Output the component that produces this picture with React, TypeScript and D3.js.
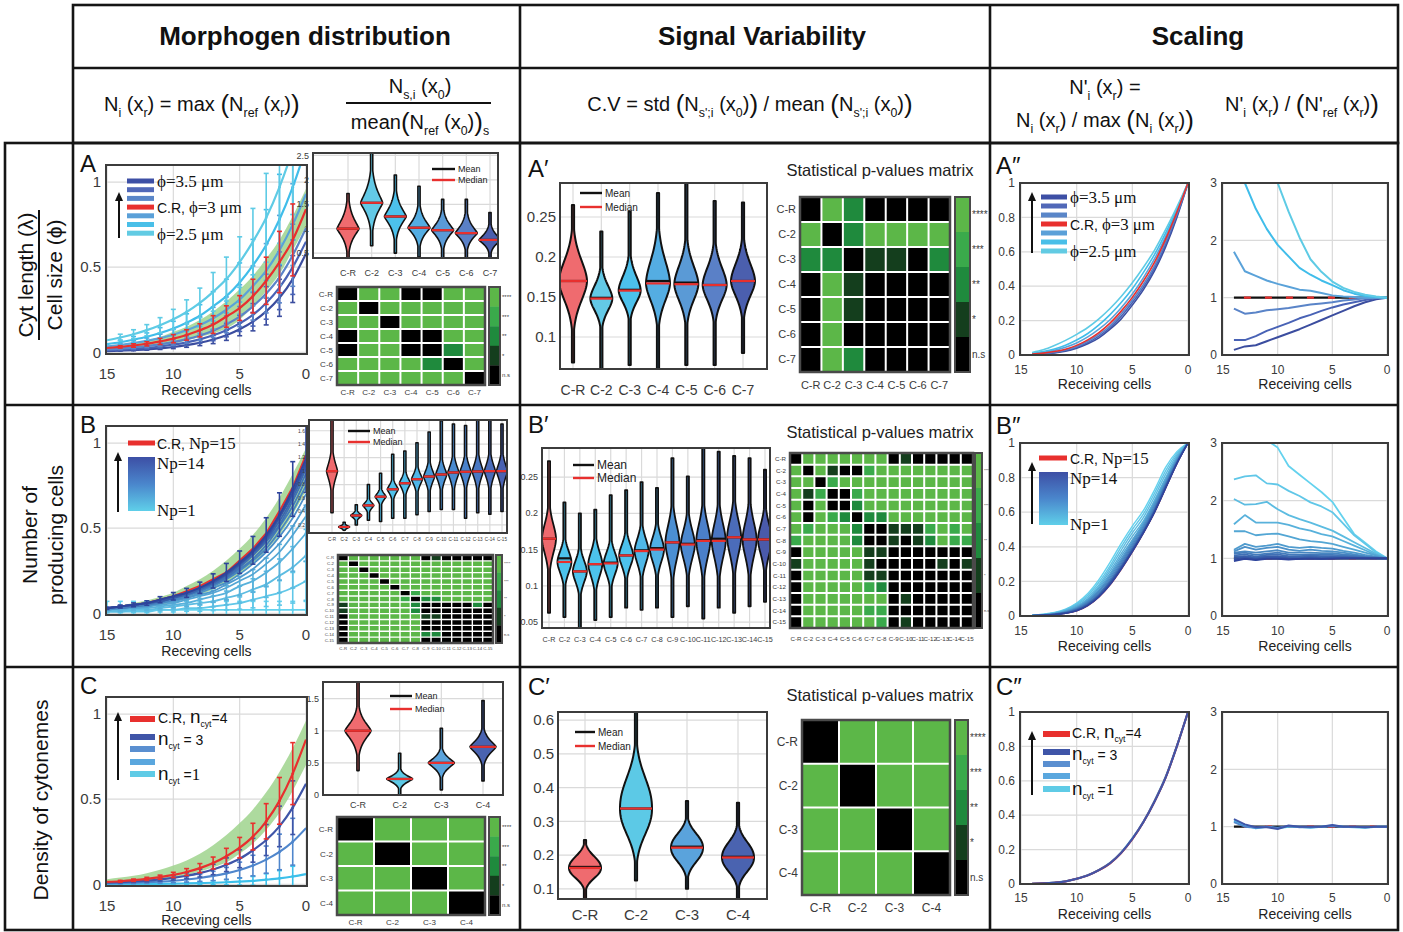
import React from "react";
import * as d3 from "d3";

const SANS = "'Liberation Sans', Arial, Helvetica, sans-serif";
const NARROW = "'Liberation Sans Narrow', 'Liberation Sans', Arial, sans-serif";
const SERIF = "'Liberation Serif', 'Times New Roman', serif";

// ---------------- data ----------------
const cells16 = [0, 1, 2, 3, 4, 5, 6, 7, 8, 9, 10, 11, 12, 13, 14, 15];
const cells15 = [0, 1, 2, 3, 4, 5, 6, 7, 8, 9, 10, 11, 12, 13, 14];
const xTicksCells = [15, 10, 5, 0];

const catsA = ["C-R", "C-2", "C-3", "C-4", "C-5", "C-6", "C-7"];
const catsB = ["C-R", "C-2", "C-3", "C-4", "C-5", "C-6", "C-7", "C-8", "C-9", "C-10", "C-11", "C-12", "C-13", "C-14", "C-15"];
const catsC = ["C-R", "C-2", "C-3", "C-4"];
const starLabels = ["****", "***", "**", "*", "n.s"];

// A: morphogen profile for cell size phi (x = 0..15 cells from source)
const aPhi350 = [0.58, 0.43, 0.32, 0.24, 0.18, 0.135, 0.1, 0.075, 0.056, 0.042, 0.031, 0.023, 0.017, 0.013, 0.01, 0.007];
const aPhi333 = [0.65, 0.5, 0.38, 0.29, 0.22, 0.17, 0.13, 0.1, 0.076, 0.058, 0.045, 0.034, 0.026, 0.02, 0.015, 0.012];
const aPhi317 = [0.73, 0.57, 0.44, 0.345, 0.27, 0.21, 0.164, 0.127, 0.099, 0.077, 0.06, 0.047, 0.037, 0.029, 0.022, 0.017];
const aRef = [0.84, 0.66, 0.53, 0.42, 0.33, 0.26, 0.21, 0.163, 0.129, 0.102, 0.08, 0.064, 0.05, 0.04, 0.032, 0.025];
const aPhi283 = [0.93, 0.75, 0.6, 0.48, 0.39, 0.31, 0.25, 0.2, 0.16, 0.13, 0.103, 0.083, 0.067, 0.054, 0.043, 0.035];
const aPhi267 = [1.2, 0.97, 0.78, 0.63, 0.51, 0.41, 0.33, 0.27, 0.215, 0.174, 0.14, 0.113, 0.091, 0.074, 0.059, 0.048];
const aPhi250 = [1.45, 1.19, 0.97, 0.79, 0.65, 0.53, 0.43, 0.355, 0.29, 0.237, 0.194, 0.159, 0.13, 0.106, 0.087, 0.071];
const aErrRel = [0, 0.32, 0.34, 0.33, 0.3, 0.28, 0.3, 0.32, 0.3, 0.3, 0.3, 0.28, 0.25, 0.25, 0.22, 0];
const aBandHi = [0.96, 0.8, 0.66, 0.55, 0.45, 0.37, 0.3, 0.24, 0.19, 0.15, 0.12, 0.09, 0.07, 0.05, 0.04, 0.03];
const aBandLo = [0.74, 0.6, 0.46, 0.36, 0.27, 0.19, 0.14, 0.11, 0.09, 0.07, 0.05, 0.04, 0.03, 0.02, 0.015, 0.01];

// A violins (normalised signal)
const aVMed = [1.0, 1.53, 1.25, 1.02, 0.97, 0.91, 0.77];
const aVLo = [0.4, 0.65, 0.5, 0.42, 0.3, 0.35, 0.35];
const aVHi = [1.72, 2.6, 2.1, 1.87, 1.6, 1.6, 1.33];
const aVUp = [0.3, 0.35, 0.28, 0.24, 0.22, 0.22, 0.17];
const aVDn = [0.25, 0.3, 0.25, 0.2, 0.2, 0.18, 0.14];

// A' violins (C.V)
const a2Med = [0.17, 0.148, 0.158, 0.167, 0.166, 0.165, 0.17];
const a2Mean = [0.17, 0.149, 0.159, 0.17, 0.168, 0.165, 0.17];
const a2Lo = [0.068, 0.06, 0.065, 0.06, 0.065, 0.065, 0.08];
const a2Hi = [0.265, 0.232, 0.257, 0.28, 0.3, 0.27, 0.268];
const a2Up = [0.038, 0.024, 0.027, 0.042, 0.034, 0.032, 0.032];
const a2Dn = [0.036, 0.022, 0.022, 0.032, 0.03, 0.028, 0.028];

// A'' normalised profiles (x = 0..14)
const aN350 = [1, 0.8, 0.63, 0.49, 0.38, 0.29, 0.21, 0.15, 0.1, 0.065, 0.04, 0.022, 0.012, 0.006, 0.003];
const aN333 = [1, 0.81, 0.645, 0.505, 0.395, 0.305, 0.225, 0.16, 0.11, 0.072, 0.045, 0.026, 0.014, 0.007, 0.004];
const aN317 = [1, 0.82, 0.66, 0.52, 0.41, 0.32, 0.24, 0.17, 0.12, 0.08, 0.05, 0.03, 0.017, 0.009, 0.005];
const aNRef = [1, 0.83, 0.675, 0.54, 0.43, 0.335, 0.255, 0.185, 0.13, 0.088, 0.056, 0.034, 0.02, 0.011, 0.006];
const aN283 = [1, 0.84, 0.69, 0.56, 0.45, 0.355, 0.275, 0.205, 0.15, 0.105, 0.07, 0.045, 0.027, 0.015, 0.008];
const aN267 = [1, 0.85, 0.71, 0.585, 0.48, 0.385, 0.305, 0.235, 0.175, 0.125, 0.087, 0.057, 0.035, 0.02, 0.01];
const aN250 = [1, 0.86, 0.73, 0.61, 0.51, 0.42, 0.34, 0.27, 0.21, 0.16, 0.12, 0.085, 0.055, 0.03, 0.015];
// A'' ratio to reference
const aR350 = [1, 0.97, 0.92, 0.85, 0.77, 0.69, 0.61, 0.53, 0.45, 0.38, 0.31, 0.24, 0.17, 0.15, 0.09];
const aR333 = [1, 0.99, 0.96, 0.92, 0.88, 0.83, 0.77, 0.7, 0.64, 0.56, 0.49, 0.42, 0.33, 0.26, 0.26];
const aR317 = [1, 1, 0.99, 0.97, 0.95, 0.92, 0.9, 0.88, 0.85, 0.82, 0.8, 0.78, 0.74, 0.72, 0.81];
const aR283 = [1, 1, 1, 1.01, 1.02, 1.04, 1.08, 1.12, 1.14, 1.19, 1.24, 1.3, 1.38, 1.46, 1.8];
const aR267 = [1, 1.01, 1.03, 1.07, 1.13, 1.22, 1.3, 1.4, 1.52, 1.72, 1.92, 2.2, 2.55, 3.0, 3.4];
const aR250 = [1, 1.02, 1.05, 1.1, 1.17, 1.28, 1.45, 1.67, 2.05, 2.5, 3.0, 3.6, 4.4, 5.2, 6.0];

// B: number of producing cells, Np = 1..14 (x = 0..15)
const bProfiles = [
  [0.02, 0.02, 0.02, 0.02, 0.02, 0.02, 0.02, 0.02, 0.02, 0.02, 0.02, 0.02, 0.02, 0.02, 0.02, 0.02],
  [0.19, 0.15, 0.12, 0.1, 0.08, 0.06, 0.05, 0.04, 0.03, 0.03, 0.02, 0.02, 0.01, 0.01, 0.01, 0.01],
  [0.34, 0.27, 0.22, 0.17, 0.14, 0.11, 0.09, 0.07, 0.06, 0.05, 0.04, 0.03, 0.02, 0.02, 0.01, 0.01],
  [0.47, 0.38, 0.3, 0.24, 0.19, 0.16, 0.12, 0.1, 0.08, 0.06, 0.05, 0.04, 0.03, 0.03, 0.02, 0.02],
  [0.57, 0.46, 0.36, 0.29, 0.23, 0.19, 0.15, 0.12, 0.1, 0.08, 0.06, 0.05, 0.04, 0.03, 0.03, 0.02],
  [0.64, 0.51, 0.41, 0.33, 0.26, 0.21, 0.17, 0.13, 0.11, 0.09, 0.07, 0.06, 0.04, 0.04, 0.03, 0.02],
  [0.7, 0.56, 0.45, 0.36, 0.29, 0.23, 0.18, 0.15, 0.12, 0.09, 0.08, 0.06, 0.05, 0.04, 0.03, 0.02],
  [0.75, 0.6, 0.48, 0.38, 0.31, 0.25, 0.2, 0.16, 0.13, 0.1, 0.08, 0.06, 0.05, 0.04, 0.03, 0.03],
  [0.79, 0.63, 0.51, 0.4, 0.32, 0.26, 0.21, 0.17, 0.13, 0.11, 0.09, 0.07, 0.05, 0.04, 0.03, 0.03],
  [0.82, 0.66, 0.52, 0.42, 0.34, 0.27, 0.21, 0.17, 0.14, 0.11, 0.09, 0.07, 0.06, 0.05, 0.04, 0.03],
  [0.85, 0.68, 0.54, 0.43, 0.35, 0.28, 0.22, 0.18, 0.14, 0.11, 0.09, 0.07, 0.06, 0.05, 0.04, 0.03],
  [0.87, 0.7, 0.56, 0.44, 0.36, 0.29, 0.23, 0.18, 0.15, 0.12, 0.09, 0.07, 0.06, 0.05, 0.04, 0.03],
  [0.89, 0.71, 0.57, 0.45, 0.36, 0.29, 0.23, 0.19, 0.15, 0.12, 0.1, 0.08, 0.06, 0.05, 0.04, 0.03],
  [0.91, 0.73, 0.58, 0.46, 0.37, 0.3, 0.24, 0.19, 0.15, 0.12, 0.1, 0.08, 0.06, 0.05, 0.04, 0.03],
];
const bRef = [0.93, 0.74, 0.6, 0.47, 0.38, 0.31, 0.24, 0.2, 0.16, 0.13, 0.1, 0.08, 0.06, 0.05, 0.04, 0.03];
const bErrRel = [2.5, 0.6, 0.45, 0.35, 0, 0, 0, 0, 0, 0, 0, 0, 0, 0.22];
const bBandHi = [0.97, 0.82, 0.68, 0.56, 0.46, 0.38, 0.31, 0.25, 0.2, 0.16, 0.12, 0.095, 0.075, 0.06, 0.045, 0.035];
const bBandLo = [0.72, 0.58, 0.46, 0.37, 0.29, 0.23, 0.18, 0.14, 0.11, 0.085, 0.065, 0.05, 0.04, 0.03, 0.02, 0.015];

const bVMed = [1.0, 0.17, 0.34, 0.49, 0.62, 0.73, 0.82, 0.88, 0.92, 0.95, 0.98, 0.99, 0.995, 1.0, 1.0];
const bVLo = [0.38, 0.12, 0.2, 0.27, 0.25, 0.3, 0.3, 0.35, 0.4, 0.43, 0.43, 0.3, 0.38, 0.36, 0.4];
const bVHi = [1.76, 0.24, 0.5, 0.8, 0.97, 1.25, 1.3, 1.42, 1.58, 1.75, 1.7, 1.68, 1.76, 1.76, 1.7];
const bVSpread = [0.2, 0.03, 0.05, 0.07, 0.08, 0.1, 0.12, 0.13, 0.15, 0.16, 0.17, 0.17, 0.18, 0.18, 0.18];

const b2Med = [0.165, 0.133, 0.12, 0.13, 0.131, 0.142, 0.148, 0.15, 0.16, 0.157, 0.162, 0.162, 0.167, 0.164, 0.164];
const b2Mean = [0.165, 0.138, 0.12, 0.13, 0.132, 0.142, 0.149, 0.152, 0.16, 0.158, 0.163, 0.165, 0.167, 0.164, 0.164];
const b2Lo = [0.063, 0.057, 0.04, 0.053, 0.057, 0.07, 0.067, 0.07, 0.057, 0.072, 0.055, 0.07, 0.063, 0.072, 0.078];
const b2Hi = [0.272, 0.215, 0.2, 0.205, 0.225, 0.232, 0.243, 0.235, 0.276, 0.251, 0.295, 0.285, 0.279, 0.276, 0.26];
const b2Spread = [0.03, 0.022, 0.022, 0.025, 0.022, 0.022, 0.025, 0.025, 0.035, 0.03, 0.035, 0.035, 0.035, 0.035, 0.03];

// B'' normalised (x = 0..14), Np = 1..14
const bNorm = [
  [1, 0.95, 0.86, 0.73, 0.61, 0.52, 0.42, 0.31, 0.21, 0.13, 0.075, 0.04, 0.02, 0.01, 0.005],
  [1, 0.94, 0.84, 0.71, 0.59, 0.5, 0.4, 0.29, 0.195, 0.12, 0.07, 0.037, 0.018, 0.009, 0.005],
  [1, 0.93, 0.82, 0.69, 0.57, 0.48, 0.38, 0.275, 0.18, 0.11, 0.064, 0.034, 0.017, 0.008, 0.004],
  [1, 0.92, 0.8, 0.67, 0.55, 0.46, 0.36, 0.26, 0.17, 0.1, 0.058, 0.031, 0.015, 0.007, 0.004],
  [1, 0.91, 0.79, 0.66, 0.54, 0.44, 0.345, 0.245, 0.16, 0.095, 0.053, 0.028, 0.014, 0.007, 0.003],
  [1, 0.905, 0.78, 0.65, 0.53, 0.43, 0.33, 0.235, 0.15, 0.09, 0.049, 0.026, 0.013, 0.006, 0.003],
  [1, 0.9, 0.77, 0.64, 0.52, 0.42, 0.32, 0.225, 0.145, 0.085, 0.046, 0.024, 0.012, 0.006, 0.003],
  [1, 0.895, 0.765, 0.63, 0.51, 0.41, 0.31, 0.215, 0.14, 0.08, 0.043, 0.022, 0.011, 0.005, 0.003],
  [1, 0.89, 0.76, 0.62, 0.5, 0.4, 0.3, 0.205, 0.13, 0.075, 0.04, 0.02, 0.01, 0.005, 0.002],
  [1, 0.888, 0.755, 0.615, 0.495, 0.39, 0.29, 0.2, 0.125, 0.072, 0.038, 0.019, 0.01, 0.005, 0.002],
  [1, 0.885, 0.75, 0.61, 0.49, 0.385, 0.285, 0.195, 0.12, 0.068, 0.035, 0.018, 0.009, 0.004, 0.002],
  [1, 0.883, 0.745, 0.605, 0.485, 0.38, 0.28, 0.19, 0.117, 0.065, 0.033, 0.017, 0.009, 0.004, 0.002],
  [1, 0.881, 0.742, 0.602, 0.482, 0.375, 0.275, 0.185, 0.113, 0.062, 0.031, 0.016, 0.008, 0.004, 0.002],
  [1, 0.88, 0.74, 0.6, 0.48, 0.37, 0.27, 0.18, 0.11, 0.06, 0.03, 0.015, 0.008, 0.004, 0.002],
];
const bRatio = [
  [1, 1.12, 1.27, 1.42, 1.7, 1.98, 2.15, 2.3, 2.45, 2.6, 2.92, 3.05, 3.5, 4.0, 4.5],
  [1, 1.1, 1.25, 1.4, 1.6, 1.8, 1.9, 1.97, 2.08, 2.17, 2.28, 2.3, 2.44, 2.42, 2.37],
  [1, 1.08, 1.18, 1.28, 1.38, 1.48, 1.55, 1.62, 1.68, 1.75, 1.85, 1.98, 1.94, 1.93, 2.03],
  [1, 1.06, 1.14, 1.22, 1.3, 1.38, 1.42, 1.48, 1.52, 1.58, 1.62, 1.62, 1.62, 1.75, 1.59],
  [1, 1.05, 1.1, 1.15, 1.2, 1.25, 1.28, 1.3, 1.33, 1.38, 1.43, 1.42, 1.4, 1.47, 1.47],
  [1, 1.03, 1.06, 1.1, 1.13, 1.17, 1.18, 1.2, 1.18, 1.2, 1.25, 1.22, 1.2, 1.25, 1.15],
  [1, 1.02, 1.04, 1.07, 1.1, 1.12, 1.13, 1.15, 1.13, 1.15, 1.2, 1.18, 1.15, 1.2, 1.12],
  [1, 1.01, 1.03, 1.05, 1.07, 1.09, 1.09, 1.1, 1.1, 1.1, 1.14, 1.12, 1.1, 1.12, 1.1],
  [1, 1.01, 1.02, 1.04, 1.05, 1.06, 1.06, 1.07, 1.06, 1.07, 1.1, 1.08, 1.06, 1.1, 1.08],
  [1, 1, 1.01, 1.02, 1.03, 1.04, 1.04, 1.05, 1.04, 1.04, 1.07, 1.06, 1.03, 1.07, 1.05],
  [1, 1, 1, 1.01, 1.02, 1.02, 1.02, 1.03, 1.02, 1.02, 1.04, 1.04, 1.01, 1.04, 1.03],
  [1, 1, 1, 1, 1, 1.01, 1, 1.01, 1, 1, 1.02, 1.02, 0.99, 1.02, 1.0],
  [1, 1, 1, 1, 1, 1, 0.99, 1, 0.99, 0.99, 1, 1, 0.98, 1, 0.98],
  [1, 1, 1, 1, 1, 0.99, 0.99, 0.99, 0.99, 0.98, 0.99, 0.99, 0.97, 0.99, 0.95],
];

// C: density of cytonemes (x = 0..15)
const cRef = [0.85, 0.65, 0.49, 0.37, 0.28, 0.215, 0.165, 0.125, 0.095, 0.072, 0.055, 0.042, 0.032, 0.024, 0.018, 0.014];
const cN3 = [0.59, 0.45, 0.34, 0.26, 0.2, 0.15, 0.115, 0.087, 0.066, 0.05, 0.038, 0.029, 0.022, 0.017, 0.013, 0.01];
const cN2 = [0.33, 0.25, 0.19, 0.145, 0.11, 0.084, 0.064, 0.049, 0.037, 0.028, 0.021, 0.016, 0.012, 0.009, 0.007, 0.005];
const cN1 = [0.06, 0.046, 0.035, 0.027, 0.02, 0.016, 0.012, 0.009, 0.007, 0.005, 0.004, 0.003, 0.002, 0.002, 0.001, 0.001];
const cErrRel = [0.28, 0.35, 0.55, 1.3];
const cBandHi = [0.96, 0.8, 0.66, 0.54, 0.44, 0.36, 0.29, 0.23, 0.18, 0.14, 0.11, 0.085, 0.065, 0.05, 0.04, 0.03];
const cBandLo = [0.7, 0.55, 0.42, 0.32, 0.24, 0.18, 0.13, 0.1, 0.075, 0.055, 0.04, 0.03, 0.02, 0.015, 0.01, 0.01];

const cVMed = [1.0, 0.25, 0.5, 0.75];
const cVLo = [0.38, 0.0, 0.08, 0.22];
const cVHi = [1.76, 0.65, 1.04, 1.47];
const cVSpread = [0.2, 0.08, 0.12, 0.15];

const c2Med = [0.162, 0.338, 0.222, 0.193];
const c2Mean = [0.165, 0.338, 0.225, 0.195];
const c2Lo = [0.07, 0.125, 0.1, 0.07];
const c2Hi = [0.245, 0.64, 0.36, 0.355];
const c2Up = [0.045, 0.12, 0.055, 0.06];
const c2Dn = [0.04, 0.1, 0.055, 0.055];

const cNRef = [1, 0.8, 0.62, 0.48, 0.36, 0.26, 0.18, 0.12, 0.08, 0.05, 0.03, 0.015, 0.008, 0.004, 0.002];
const cNN3 = [1, 0.8, 0.62, 0.48, 0.36, 0.262, 0.181, 0.121, 0.08, 0.05, 0.03, 0.015, 0.008, 0.004, 0.002];
const cNN2 = [1, 0.802, 0.622, 0.482, 0.362, 0.263, 0.182, 0.122, 0.081, 0.051, 0.031, 0.016, 0.008, 0.004, 0.002];
const cNN1 = [1, 0.803, 0.625, 0.485, 0.364, 0.265, 0.184, 0.123, 0.082, 0.052, 0.031, 0.016, 0.009, 0.004, 0.002];
const cRN3 = [1, 1, 0.99, 1, 1, 1.03, 1, 1, 1, 1.02, 0.96, 0.99, 0.99, 1.04, 1.13];
const cRN2 = [1, 1, 0.99, 1, 1, 1.01, 1, 0.99, 0.99, 1.01, 0.98, 1, 0.98, 1, 1.08];
const cRN1 = [1, 1, 0.98, 0.99, 1, 1.02, 1, 0.98, 1, 1, 0.97, 1, 0.97, 1.03, 1.1];

// p-value significance levels: 4 = ****, 3 = ***, 2 = **, 1 = *, 0 = n.s
const pA = [
  [0, 4, 4, 0, 0, 4, 4],
  [4, 0, 4, 4, 4, 4, 4],
  [4, 4, 0, 4, 4, 4, 4],
  [0, 4, 4, 0, 0, 4, 4],
  [0, 4, 4, 0, 0, 2, 4],
  [4, 4, 4, 4, 2, 0, 4],
  [4, 4, 4, 4, 4, 4, 0],
];
const pA2 = [
  [0, 4, 2, 0, 0, 0, 0],
  [4, 0, 2, 4, 4, 4, 4],
  [2, 2, 0, 1, 1, 0, 2],
  [0, 4, 1, 0, 0, 0, 0],
  [0, 4, 1, 0, 0, 0, 0],
  [0, 4, 0, 0, 0, 0, 0],
  [0, 4, 2, 0, 0, 0, 0],
];
const pB = [
  [0, 4, 4, 4, 4, 4, 4, 4, 0, 1, 0, 0, 0, 0, 0],
  [4, 0, 4, 4, 4, 4, 4, 4, 4, 4, 4, 4, 4, 4, 4],
  [4, 4, 0, 4, 4, 4, 4, 4, 4, 4, 4, 4, 4, 4, 4],
  [4, 4, 4, 0, 4, 4, 4, 4, 4, 4, 4, 4, 4, 4, 4],
  [4, 4, 4, 4, 0, 4, 4, 4, 4, 4, 4, 4, 4, 4, 4],
  [4, 4, 4, 4, 4, 0, 4, 4, 4, 4, 4, 4, 4, 4, 4],
  [4, 4, 4, 4, 4, 4, 0, 3, 4, 4, 4, 4, 4, 4, 4],
  [4, 4, 4, 4, 4, 4, 3, 0, 2, 2, 4, 4, 4, 4, 4],
  [1, 4, 4, 4, 4, 4, 4, 2, 0, 0, 0, 0, 0, 2, 0],
  [1, 4, 4, 4, 4, 4, 4, 2, 0, 0, 0, 0, 0, 0, 0],
  [0, 4, 4, 4, 4, 4, 4, 4, 1, 1, 0, 0, 0, 0, 0],
  [0, 4, 4, 4, 4, 4, 4, 4, 0, 0, 0, 0, 0, 0, 0],
  [0, 4, 4, 4, 4, 4, 4, 4, 0, 0, 0, 0, 0, 0, 0],
  [0, 4, 4, 4, 4, 4, 4, 4, 2, 2, 0, 0, 0, 0, 0],
  [0, 4, 4, 4, 4, 4, 4, 4, 0, 0, 0, 0, 0, 0, 0],
];
const pB2 = [
  [0, 4, 4, 4, 4, 4, 4, 4, 0, 1, 0, 0, 0, 0, 0],
  [4, 0, 4, 1, 0, 0, 3, 4, 4, 4, 4, 4, 4, 4, 4],
  [4, 4, 0, 3, 4, 4, 4, 4, 4, 4, 4, 4, 4, 4, 4],
  [4, 1, 3, 0, 0, 3, 4, 4, 4, 4, 4, 4, 4, 4, 4],
  [4, 0, 4, 0, 0, 2, 4, 4, 4, 4, 4, 4, 4, 4, 4],
  [4, 0, 4, 3, 2, 0, 2, 2, 4, 4, 4, 4, 4, 4, 4],
  [4, 3, 4, 4, 4, 2, 0, 0, 1, 1, 1, 3, 4, 3, 4],
  [3, 4, 4, 4, 4, 2, 0, 0, 1, 0, 1, 2, 4, 3, 3],
  [0, 4, 4, 4, 4, 4, 1, 1, 0, 0, 0, 0, 0, 0, 0],
  [1, 4, 4, 4, 4, 4, 1, 0, 0, 0, 0, 0, 1, 0, 1],
  [0, 4, 4, 4, 4, 4, 1, 1, 0, 0, 0, 0, 0, 0, 0],
  [0, 4, 4, 4, 4, 4, 3, 2, 0, 0, 0, 0, 0, 0, 0],
  [0, 4, 4, 4, 4, 4, 4, 4, 0, 1, 0, 0, 0, 0, 0],
  [0, 4, 4, 4, 4, 4, 3, 3, 0, 0, 0, 0, 0, 0, 0],
  [0, 4, 4, 4, 4, 4, 4, 3, 0, 1, 0, 0, 0, 0, 0],
];
const pC = [
  [0, 4, 4, 4],
  [4, 0, 4, 4],
  [4, 4, 0, 4],
  [4, 4, 4, 0],
];

// ---------------- styles ----------------
const levelColor = ["#000000", "#143e1d", "#1f8a3d", "#3aaa4b", "#5cb748"];
const RED = "#e8302e";
const FRAME = "#3c3c3c";
const GRID = "#dadada";
const TICK = "#3a3a3a";

type Box = { x: number; y: number; w: number; h: number };

function Rich({ x, y, size, parts, anchor = "start", family = SANS, weight = "normal", fill = "#111" }: any) {
  let cur = 0;
  const spans = parts.map((p: any, i: number) => {
    const [t, k] = Array.isArray(p) ? p : [p, "n"];
    let target = 0;
    let fs = size;
    let fam = family;
    if (k === "s") { target = size * 0.28; fs = size * 0.62; }
    if (k === "b") { target = size * 0.08; fs = size * 1.3; }
    if (k === "L") { fs = size * 1.35; }
    if (k === "r") { fam = SERIF; fs = size * 1.2; }
    const dy = target - cur;
    cur = target;
    return (
      <tspan key={i} dy={dy} fontSize={fs} fontFamily={fam}>
        {t}
      </tspan>
    );
  });
  return (
    <text x={x} y={y} fontSize={size} textAnchor={anchor} fontFamily={family} fontWeight={weight} fill={fill} style={{ whiteSpace: "pre" }}>
      {spans}
    </text>
  );
}

type Series = { xs: number[]; ys: number[]; color: string; width?: number; err?: number[]; smooth?: boolean };

function LineChart({ id, b, yDomain, yTicks, series, band, tick, label, xLabel, tickGap, labelGap, refLine }: any) {
  const x = d3.scaleLinear().domain([15, 0]).range([b.x + 1, b.x + b.w - 1]);
  const y = d3.scaleLinear().domain(yDomain).range([b.y + b.h, b.y]);
  const clip = `clip-${id}`;
  let bandPath: string | null = null;
  if (band) {
    const idx = band.xs.map((_: number, i: number) => i);
    bandPath = d3
      .area<number>()
      .x((i) => x(band.xs[i]))
      .y0((i) => y(band.lo[i]))
      .y1((i) => y(band.hi[i]))
      .curve(d3.curveMonotoneX)(idx);
  }
  return (
    <g>
      <defs>
        <clipPath id={clip}>
          <rect x={b.x} y={b.y} width={b.w} height={b.h} />
        </clipPath>
      </defs>
      <rect x={b.x} y={b.y} width={b.w} height={b.h} fill="#fff" />
      <g stroke={GRID} strokeWidth={1.2}>
        {xTicksCells.map((t) => (
          <line key={"gx" + t} x1={x(t)} x2={x(t)} y1={b.y} y2={b.y + b.h} />
        ))}
        {yTicks.map((t: number) => (
          <line key={"gy" + t} x1={b.x} x2={b.x + b.w} y1={y(t)} y2={y(t)} />
        ))}
      </g>
      <g clipPath={`url(#${clip})`}>
        {bandPath && <path d={bandPath} fill="#9fd38d" opacity={0.85} />}
        {refLine !== undefined && (
          <g>
            <line x1={x(14)} x2={x(0)} y1={y(refLine)} y2={y(refLine)} stroke="#111" strokeWidth={2.2} />
            <line x1={x(14)} x2={x(0)} y1={y(refLine)} y2={y(refLine)} stroke={RED} strokeWidth={2.2} strokeDasharray="7 14" strokeDashoffset={-10} />
          </g>
        )}
        {series.map((s: Series, k: number) => {
          const pts = s.xs.map((xv, i) => [x(xv), y(s.ys[i])] as [number, number]);
          const d = d3.line().curve(s.smooth ? d3.curveMonotoneX : d3.curveLinear)(pts);
          return (
            <g key={k}>
              <path d={d || ""} fill="none" stroke={s.color} strokeWidth={s.width || 2} strokeLinejoin="round" />
              {s.err &&
                s.xs.map((xv, i) => {
                  const e = s.err![i];
                  if (!e) return null;
                  const cx = x(xv);
                  const v = s.ys[i];
                  return (
                    <g key={i} stroke={s.color} strokeWidth={1.6}>
                      <line x1={cx} x2={cx} y1={y(v - e)} y2={y(v + e)} />
                      <line x1={cx - 2.5} x2={cx + 2.5} y1={y(v + e)} y2={y(v + e)} />
                      <line x1={cx - 2.5} x2={cx + 2.5} y1={y(Math.max(v - e, yDomain[0]))} y2={y(Math.max(v - e, yDomain[0]))} />
                      <circle cx={cx} cy={y(v)} r={1.4} fill={s.color} stroke="none" />
                    </g>
                  );
                })}
            </g>
          );
        })}
      </g>
      <rect x={b.x} y={b.y} width={b.w} height={b.h} fill="none" stroke={FRAME} strokeWidth={2} />
      <g fontFamily={NARROW} fontSize={tick} fill={TICK}>
        {yTicks.map((t: number) => (
          <text key={"ty" + t} x={b.x - 5} y={y(t)} dy="0.35em" textAnchor="end">
            {String(t)}
          </text>
        ))}
        {xTicksCells.map((t) => (
          <text key={"tx" + t} x={x(t)} y={b.y + b.h + tickGap} textAnchor="middle">
            {String(t)}
          </text>
        ))}
      </g>
      <text x={b.x + b.w / 2} y={b.y + b.h + labelGap} textAnchor="middle" fontFamily={SANS} fontSize={label} fill="#222">
        {xLabel}
      </text>
    </g>
  );
}

function Violins({ id, b, yDomain, yTicks, cats, span, med, mean, lo, hi, up, dn, W, colors, tick, cat, catGap, legend, power = 1.6, sw = 1.6 }: any) {
  const y = d3.scaleLinear().domain(yDomain).range([b.y + b.h, b.y]);
  const x = d3.scalePoint<string>().domain(cats).range(span);
  const clip = `clip-${id}`;
  const halfW = (i: number, v: number) => {
    const s = v >= med[i] ? up[i] : dn[i];
    const wi = Array.isArray(W) ? W[i] : W;
    return Math.max(wi * Math.exp(-Math.pow(Math.abs(v - med[i]) / s, power)), 1.1);
  };
  return (
    <g>
      <defs>
        <clipPath id={clip}>
          <rect x={b.x} y={b.y} width={b.w} height={b.h} />
        </clipPath>
      </defs>
      <rect x={b.x} y={b.y} width={b.w} height={b.h} fill="#fff" />
      <g stroke={GRID} strokeWidth={1.2}>
        {cats.map((c: string) => (
          <line key={c} x1={x(c)} x2={x(c)} y1={b.y} y2={b.y + b.h} />
        ))}
        {yTicks.map((t: number) => (
          <line key={t} x1={b.x} x2={b.x + b.w} y1={y(t)} y2={y(t)} />
        ))}
      </g>
      <g clipPath={`url(#${clip})`}>
        {cats.map((c: string, i: number) => {
          const cx = x(c)!;
          const vs = d3.range(0, 81).map((k) => lo[i] + ((hi[i] - lo[i]) * k) / 80);
          const right = vs.map((v) => [cx + halfW(i, v), y(v)] as [number, number]);
          const left = vs.slice().reverse().map((v) => [cx - halfW(i, v), y(v)] as [number, number]);
          const d = d3.line()(right.concat(left)) + "Z";
          const mv = mean ? mean[i] : med[i];
          return (
            <g key={c}>
              <path d={d} fill={colors[i]} stroke="#111" strokeWidth={sw} strokeLinejoin="round" />
              <line x1={cx - halfW(i, mv)} x2={cx + halfW(i, mv)} y1={y(mv)} y2={y(mv)} stroke="#111" strokeWidth={2.2} />
              <line x1={cx - halfW(i, med[i])} x2={cx + halfW(i, med[i])} y1={y(med[i])} y2={y(med[i])} stroke={RED} strokeWidth={2.2} />
            </g>
          );
        })}
      </g>
      <rect x={b.x} y={b.y} width={b.w} height={b.h} fill="none" stroke={FRAME} strokeWidth={2} />
      <g fontFamily={NARROW} fontSize={tick} fill={TICK}>
        {yTicks.map((t: number) => (
          <text key={t} x={b.x - 4} y={y(t)} dy="0.35em" textAnchor="end">
            {String(t)}
          </text>
        ))}
      </g>
      <g fontFamily={NARROW} fontSize={cat} fill={TICK}>
        {cats.map((c: string) => (
          <text key={c} x={x(c)} y={b.y + b.h + catGap} textAnchor="middle">
            {c}
          </text>
        ))}
      </g>
      {legend && (
        <g fontFamily={NARROW} fontSize={legend.size} fill="#222">
          <line x1={legend.x1} x2={legend.x2} y1={legend.y1} y2={legend.y1} stroke="#111" strokeWidth={2.4} />
          <text x={legend.x2 + 3} y={legend.y1} dy="0.35em">Mean</text>
          <line x1={legend.x1} x2={legend.x2} y1={legend.y2} y2={legend.y2} stroke={RED} strokeWidth={2.4} />
          <text x={legend.x2 + 3} y={legend.y2} dy="0.35em">Median</text>
        </g>
      )}
    </g>
  );
}

function Heatmap({ b, m, labels, size, colGap, cb, cbSize, grid = 2 }: any) {
  const n = labels.length;
  const idx = d3.range(n);
  const xs = d3.scaleBand<number>().domain(idx).range([b.x, b.x + b.w]);
  const ys = d3.scaleBand<number>().domain(idx).range([b.y, b.y + b.h]);
  const levels = [4, 3, 2, 1, 0];
  const cbY = d3.scaleBand<number>().domain(d3.range(5)).range([cb.y, cb.y + cb.h]);
  return (
    <g>
      {m.map((row: number[], r: number) =>
        row.map((v, c) => (
          <rect key={r + "-" + c} x={xs(c)} y={ys(r)} width={xs.bandwidth() + 0.3} height={ys.bandwidth() + 0.3} fill={levelColor[v]} />
        ))
      )}
      <g stroke="#fff" strokeWidth={grid}>
        {idx.slice(1).map((i) => (
          <line key={"v" + i} x1={xs(i)} x2={xs(i)} y1={b.y} y2={b.y + b.h} />
        ))}
        {idx.slice(1).map((i) => (
          <line key={"h" + i} x1={b.x} x2={b.x + b.w} y1={ys(i)} y2={ys(i)} />
        ))}
      </g>
      <rect x={b.x} y={b.y} width={b.w} height={b.h} fill="none" stroke="#4a4a4a" strokeWidth={2.5} />
      <g fontFamily={NARROW} fontSize={size} fill={TICK}>
        {labels.map((l: string, i: number) => (
          <text key={"r" + l} x={b.x - 4} y={ys(i)! + ys.bandwidth() / 2} dy="0.35em" textAnchor="end">
            {l}
          </text>
        ))}
        {labels.map((l: string, i: number) => (
          <text key={"c" + l} x={xs(i)! + xs.bandwidth() / 2} y={b.y + b.h + colGap} textAnchor="middle">
            {l}
          </text>
        ))}
      </g>
      {levels.map((lv, k) => (
        <rect key={"cb" + lv} x={cb.x} y={cbY(k)} width={cb.w} height={cbY.bandwidth() + 0.3} fill={levelColor[lv]} />
      ))}
      <rect x={cb.x} y={cb.y} width={cb.w} height={cb.h} fill="none" stroke="#4a4a4a" strokeWidth={2} />
      <g fontFamily={NARROW} fontSize={cbSize} fill={TICK}>
        {starLabels.map((s, k) => (
          <text key={s} x={cb.x + cb.w + 2} y={cbY(k)! + cbY.bandwidth() / 2} dy="0.35em">
            {s}
          </text>
        ))}
      </g>
    </g>
  );
}

function Arrow({ x, y1, y2 }: { x: number; y1: number; y2: number }) {
  return (
    <g>
      <line x1={x} x2={x} y1={y1} y2={y2 + 6} stroke="#111" strokeWidth={2} />
      <path d={`M${x - 4},${y2 + 9} L${x},${y2} L${x + 4},${y2 + 9} Z`} fill="#111" />
    </g>
  );
}

function LegendRows({ x, w, ys, colors, thick }: any) {
  return (
    <g>
      {ys.map((yy: number, i: number) => (
        <line key={i} x1={x} x2={x + w} y1={yy} y2={yy} stroke={colors[i]} strokeWidth={thick} />
      ))}
    </g>
  );
}

export default function App() {
  const aColors = ["#3b4d9f", "#4862b5", "#5a84c8", RED, "#5aa2d9", "#40bdea", "#5ecbe5"];
  const aCurves = [aPhi350, aPhi333, aPhi317, aRef, aPhi283, aPhi267, aPhi250];
  const aOrder = [0, 1, 2, 4, 5, 6, 3];
  const aSeries: Series[] = aOrder.map((k) => ({
    xs: cells16,
    ys: aCurves[k],
    color: aColors[k],
    width: 2.2,
    smooth: true,
    err: aCurves[k].map((v, i) => v * aErrRel[i]),
  }));
  const aNorm = [aN350, aN333, aN317, aNRef, aN283, aN267, aN250];
  const aNSeries: Series[] = aOrder.map((k) => ({ xs: cells15, ys: aNorm[k], color: aColors[k], width: 1.6, smooth: true }));
  const aRat = [aR350, aR333, aR317, aR283, aR267, aR250];
  const aRColors = [aColors[0], aColors[1], aColors[2], aColors[4], aColors[5], aColors[6]];
  const aRSeries: Series[] = aRat.map((r, k) => ({ xs: cells15, ys: r, color: aRColors[k], width: 2 }));

  const bColor = d3.interpolateRgb("#64d2ee", "#2e449b");
  const bColors = bProfiles.map((_, i) => bColor(i / (bProfiles.length - 1)));
  const bSeries: Series[] = [
    { xs: cells16, ys: bRef, color: RED, width: 2 },
    ...bProfiles.map((p, i) => ({
      xs: cells16,
      ys: p,
      color: bColors[i],
      width: 1.8,
      smooth: true,
      err: bErrRel[i] ? p.map((v) => v * bErrRel[i]) : undefined,
    })),
  ];
  const bNSeries: Series[] = [{ xs: cells15, ys: bNorm[13], color: RED, width: 1.4, smooth: true }, ...bNorm.map((p, i) => ({ xs: cells15, ys: p, color: bColors[i], width: 1.4, smooth: true }))];
  const bRSeries: Series[] = bRatio.map((p, i) => ({ xs: cells15, ys: p, color: bColors[i], width: 1.8 }));

  const cColors = [RED, "#3f55a8", "#4f86cc", "#3cc0ea"];
  const cCurves = [cRef, cN3, cN2, cN1];
  const cSeries: Series[] = [3, 2, 1, 0].map((k) => ({
    xs: cells16,
    ys: cCurves[k],
    color: cColors[k],
    width: 2.2,
    smooth: true,
    err: cCurves[k].map((v, i) => (i > 0 && i < 15 ? v * cErrRel[k] : 0)),
  }));
  const cNSeries: Series[] = [cNN1, cNN2, cNRef, cNN3].map((p, i) => ({ xs: cells15, ys: p, color: ["#5cc8e8", "#4f86cc", RED, "#3f55a8"][i], width: 2, smooth: true }));
  const cRSeries: Series[] = [cRN1, cRN2, cRN3].map((p, i) => ({ xs: cells15, ys: p, color: ["#4cc3ea", "#4f86cc", "#3f55a8"][i], width: 2 }));

  const vColA = ["#ef6b6f", "#63c9e6", "#4cc1ec", "#54ade2", "#5a9ad6", "#5a80c7", "#4b5fae"];
  const vColB = ["#ee6a6e", "#4fc0ea", "#4fc0ea", "#4fc0ea", "#4fc0ea", "#4fc0ea", "#4fbceb", "#4fb6e8", "#4a9ad8", "#4a92d4", "#4a8acf", "#4a82ca", "#4a78c2", "#4a6cb9", "#4a62b2"];
  const vColB2 = ["#ee6a6e", "#4cc3ec", "#4cc3ec", "#4cc3ec", "#4cc3ec", "#4cc1ec", "#4fb8e8", "#4fafe4", "#4b8fd2", "#4b88cf", "#4b80ca", "#4b76c2", "#4b6cba", "#4a62b3", "#4a5aab"];
  const vColC = ["#ef6b6f", "#5cc9e6", "#5aa3dc", "#4a63b0"];

  const legA = ["#3d4fa5", "#5168b8", "#5a86c8", RED, "#5aa0d8", "#49bfe8", "#62cbe3"];
  const legC = [RED, "#3f55a8", "#5a8fd0", "#5aa7de", "#5fcbe6"];

  const panelLetter = (x: number, y: number, t: string) => (
    <text x={x} y={y} fontFamily={SANS} fontSize={24} fill="#111">
      {t}
    </text>
  );
  const statTitle = (y: number) => (
    <text x={880} y={y} textAnchor="middle" fontFamily={SANS} fontSize={16.5} fill="#222">
      Statistical p-values matrix
    </text>
  );

  return (
    <div style={{ position: "absolute", left: 0, top: 0 }}>
      <svg width={1403} height={932} style={{ display: "block", background: "#fff" }}>
        <defs>
          <linearGradient id="npGrad" x1="0" x2="0" y1="0" y2="1">
            <stop offset="0" stopColor="#3d4fa5" />
            <stop offset="0.5" stopColor="#4a86cc" />
            <stop offset="1" stopColor="#5fcfe9" />
          </linearGradient>
        </defs>

        {/* ---------- header ---------- */}
        <g fontFamily={SANS} fontWeight="bold" fontSize={26} fill="#111" textAnchor="middle">
          <text x={305} y={45}>Morphogen distribution</text>
          <text x={762} y={45}>Signal Variability</text>
          <text x={1198} y={45}>Scaling</text>
        </g>
        <Rich x={104} y={111} size={20} parts={["N", ["i", "s"], " (x", ["r", "s"], ") = max ", ["(", "b"], "N", ["ref", "s"], " (x", ["r", "s"], ")", [")", "b"]]} />
        <Rich x={420} y={93} size={20} anchor="middle" parts={["N", ["s,i", "s"], " (x", ["0", "s"], ")"]} />
        <line x1={346} x2={491} y1={103} y2={103} stroke="#111" strokeWidth={2.2} />
        <Rich x={420} y={129} size={20} anchor="middle" parts={["mean", ["(", "b"], "N", ["ref", "s"], " (x", ["0", "s"], ")", [")", "b"], ["s", "s"]]} />
        <Rich x={750} y={111} size={20} anchor="middle" parts={["C.V = std ", ["(", "b"], "N", ["s';i", "s"], " (x", ["0", "s"], ")", [")", "b"], " / mean ", ["(", "b"], "N", ["s';i", "s"], " (x", ["0", "s"], ")", [")", "b"]]} />
        <Rich x={1105} y={94} size={20} anchor="middle" parts={["N'", ["i", "s"], " (x", ["r", "s"], ") ="]} />
        <Rich x={1105} y={127} size={20} anchor="middle" parts={["N", ["i", "s"], " (x", ["r", "s"], ") / max ", ["(", "b"], "N", ["i", "s"], " (x", ["r", "s"], ")", [")", "b"]]} />
        <Rich x={1302} y={111} size={20} anchor="middle" parts={["N'", ["i", "s"], " (x", ["r", "s"], ") / ", ["(", "b"], "N'", ["ref", "s"], " (x", ["r", "s"], ")", [")", "b"]]} />

        {/* ---------- row labels ---------- */}
        <g fontFamily={SANS} fontSize={21} fill="#111" textAnchor="middle">
          <text transform="translate(33,275) rotate(-90)">Cyt length (λ)</text>
          <line x1={39} x2={39} y1={210} y2={340} stroke="#111" strokeWidth={2} />
          <text transform="translate(62,275) rotate(-90)">Cell size (ϕ)</text>
          <text transform="translate(37,535) rotate(-90)">Number of</text>
          <text transform="translate(63,535) rotate(-90)">producing cells</text>
          <text transform="translate(48,800) rotate(-90)">Density of cytonemes</text>
        </g>

        {/* ---------- row A ---------- */}
        {panelLetter(80, 172, "A")}
        <LineChart id="la" b={{ x: 106, y: 165, w: 201, h: 189 }} yDomain={[-0.01, 1.1]} yTicks={[0, 0.5, 1]} series={aSeries} band={{ xs: cells16, lo: aBandLo, hi: aBandHi }} tick={15} label={14} xLabel="Receving cells" tickGap={25} labelGap={41} />
        <LegendRows x={127} w={27} ys={[181, 189.7, 198.4, 207.1, 215.8, 224.5, 233.2]} colors={legA} thick={5} />
        <Arrow x={119} y1={238} y2={192} />
        <Rich x={157} y={187} size={17} family={SERIF} parts={["ϕ=3.5 μm"]} />
        <Rich x={157} y={213} size={14} parts={["C.R, ", ["ϕ=3 μm", "r"]]} />
        <Rich x={157} y={240} size={17} family={SERIF} parts={["ϕ=2.5 μm"]} />
        <Violins id="va" b={{ x: 313, y: 153, w: 185, h: 105 }} yDomain={[0.4, 2.55]} yTicks={[0.5, 1, 1.5, 2, 2.5]} cats={catsA} span={[348, 490]} med={aVMed} lo={aVLo} hi={aVHi} up={aVUp} dn={aVDn} W={11} colors={vColA} tick={9} cat={9} catGap={18} legend={{ x1: 432, x2: 455, y1: 169, y2: 180, size: 9 }} power={1.3} />
        <Heatmap b={{ x: 337, y: 287, w: 148, h: 98 }} m={pA} labels={catsA} size={8} colGap={10} cb={{ x: 489, y: 287, w: 11, h: 98 }} cbSize={6} />

        {panelLetter(528, 177, "A′")}
        <Violins id="va2" b={{ x: 560, y: 183, w: 207, h: 186 }} yDomain={[0.06, 0.2925]} yTicks={[0.1, 0.15, 0.2, 0.25]} cats={catsA} span={[573, 743]} med={a2Med} mean={a2Mean} lo={a2Lo} hi={a2Hi} up={a2Up} dn={a2Dn} W={[14, 11, 11, 12, 12, 12, 12]} colors={vColA} tick={15} cat={14} catGap={26} legend={{ x1: 580, x2: 602, y1: 193, y2: 207, size: 10 }} power={1.8} sw={2} />
        {statTitle(176)}
        <Heatmap b={{ x: 800, y: 197, w: 150, h: 175 }} m={pA2} labels={catsA} size={11} colGap={17} cb={{ x: 955, y: 197, w: 15, h: 175 }} cbSize={10} />

        {panelLetter(996, 174, "A″")}
        <LineChart id="la3" b={{ x: 1020, y: 183, w: 169, h: 172 }} yDomain={[0, 1]} yTicks={[0, 0.2, 0.4, 0.6, 0.8, 1]} series={aNSeries} tick={12} label={14} xLabel="Receiving cells" tickGap={19} labelGap={34} />
        <LegendRows x={1041} w={26} ys={[197, 206, 215, 224, 233, 242, 251]} colors={legA} thick={5} />
        <Arrow x={1032} y1={253} y2={192} />
        <Rich x={1070} y={203} size={17} family={SERIF} parts={["ϕ=3.5 μm"]} />
        <Rich x={1070} y={230} size={14} parts={["C.R, ", ["ϕ=3 μm", "r"]]} />
        <Rich x={1070} y={257} size={17} family={SERIF} parts={["ϕ=2.5 μm"]} />
        <LineChart id="la4" b={{ x: 1222, y: 183, w: 166, h: 172 }} yDomain={[0, 3]} yTicks={[0, 1, 2, 3]} series={aRSeries} tick={12} label={14} xLabel="Receiving cells" tickGap={19} labelGap={34} refLine={1} />

        {/* ---------- row B ---------- */}
        {panelLetter(80, 433, "B")}
        <LineChart id="lb" b={{ x: 106, y: 426, w: 201, h: 189 }} yDomain={[-0.01, 1.1]} yTicks={[0, 0.5, 1]} series={bSeries} band={{ xs: cells16, lo: bBandLo, hi: bBandHi }} tick={15} label={14} xLabel="Receving cells" tickGap={25} labelGap={41} />
        <line x1={128} x2={155} y1={443} y2={443} stroke={RED} strokeWidth={5} />
        <rect x={128} y={457} width={27} height={54} fill="url(#npGrad)" />
        <Arrow x={118} y1={512} y2={452} />
        <Rich x={157} y={449} size={14} parts={["C.R, ", ["Np=15", "r"]]} />
        <Rich x={157} y={469} size={17} family={SERIF} parts={["Np=14"]} />
        <Rich x={157} y={516} size={17} family={SERIF} parts={["Np=1"]} />
        <Violins id="vb" b={{ x: 309, y: 420, w: 198, h: 113 }} yDomain={[0.08, 1.76]} yTicks={[0.2, 0.4, 0.6, 0.8, 1, 1.2, 1.4, 1.6]} cats={catsB} span={[332, 502]} med={bVMed} lo={bVLo} hi={bVHi} up={bVSpread} dn={bVSpread} W={5.5} colors={vColB} tick={5} cat={4.6} catGap={8} legend={{ x1: 348, x2: 370, y1: 431, y2: 442, size: 9 }} power={1.4} sw={1.5} />
        <Heatmap b={{ x: 338, y: 555, w: 155, h: 88 }} m={pB} labels={catsB} size={4.3} colGap={7} cb={{ x: 496, y: 555, w: 6, h: 88 }} cbSize={4} grid={1.4} />

        {panelLetter(528, 433, "B′")}
        <Violins id="vb2" b={{ x: 542, y: 448, w: 228, h: 180 }} yDomain={[0.042, 0.29]} yTicks={[0.05, 0.1, 0.15, 0.2, 0.25]} cats={catsB} span={[549, 765]} med={b2Med} mean={b2Mean} lo={b2Lo} hi={b2Hi} up={b2Spread} dn={b2Spread} W={7} colors={vColB2} tick={9} cat={7.2} catGap={14} legend={{ x1: 573, x2: 594, y1: 465, y2: 478, size: 12 }} power={1.8} sw={1.8} />
        {statTitle(438)}
        <Heatmap b={{ x: 790, y: 453, w: 183, h: 175 }} m={pB2} labels={catsB} size={6.2} colGap={13} cb={{ x: 975, y: 453, w: 7, h: 175 }} cbSize={4} />

        {panelLetter(996, 434, "B″")}
        <LineChart id="lb3" b={{ x: 1020, y: 443, w: 169, h: 173 }} yDomain={[0, 1]} yTicks={[0, 0.2, 0.4, 0.6, 0.8, 1]} series={bNSeries} tick={12} label={14} xLabel="Receiving cells" tickGap={19} labelGap={35} />
        <line x1={1039} x2={1067} y1={458} y2={458} stroke={RED} strokeWidth={5} />
        <rect x={1039} y={472} width={29} height={53} fill="url(#npGrad)" />
        <Arrow x={1032} y1={524} y2={462} />
        <Rich x={1070} y={464} size={14} parts={["C.R, ", ["Np=15", "r"]]} />
        <Rich x={1070} y={484} size={17} family={SERIF} parts={["Np=14"]} />
        <Rich x={1070} y={530} size={17} family={SERIF} parts={["Np=1"]} />
        <LineChart id="lb4" b={{ x: 1222, y: 443, w: 166, h: 173 }} yDomain={[0, 3]} yTicks={[0, 1, 2, 3]} series={bRSeries} tick={12} label={14} xLabel="Receiving cells" tickGap={19} labelGap={35} refLine={1} />

        {/* ---------- row C ---------- */}
        {panelLetter(80, 694, "C")}
        <LineChart id="lc" b={{ x: 106, y: 697, w: 201, h: 189 }} yDomain={[-0.01, 1.1]} yTicks={[0, 0.5, 1]} series={cSeries} band={{ xs: cells16, lo: cBandLo, hi: cBandHi }} tick={15} label={14} xLabel="Receving cells" tickGap={25} labelGap={39} />
        <LegendRows x={130} w={25} ys={[719, 737, 749, 762, 774]} colors={legC} thick={6} />
        <Arrow x={118} y1={780} y2={712} />
        <Rich x={158} y={723} size={14} parts={["C.R, ", ["n", "L"], ["cyt", "s"], "=4"]} />
        <Rich x={158} y={745} size={14} parts={[["n", "L"], ["cyt", "s"], " = 3"]} />
        <Rich x={158} y={780} size={14} parts={[["n", "L"], ["cyt", "s"], " =", ["1", "r"]]} />
        <Violins id="vc" b={{ x: 323, y: 682, w: 180, h: 113 }} yDomain={[0, 1.76]} yTicks={[0, 0.5, 1, 1.5]} cats={catsC} span={[358, 483]} med={cVMed} lo={cVLo} hi={cVHi} up={cVSpread} dn={cVSpread} W={13} colors={vColC} tick={9} cat={9} catGap={13} legend={{ x1: 390, x2: 412, y1: 696, y2: 709, size: 9 }} power={1.4} />
        <Heatmap b={{ x: 337, y: 817, w: 148, h: 98 }} m={pC} labels={catsC} size={8} colGap={10} cb={{ x: 489, y: 817, w: 11, h: 98 }} cbSize={6} />

        {panelLetter(528, 695, "C′")}
        <Violins id="vc2" b={{ x: 558, y: 712, w: 209, h: 187 }} yDomain={[0.07, 0.624]} yTicks={[0.1, 0.2, 0.3, 0.4, 0.5, 0.6]} cats={catsC} span={[585, 738]} med={c2Med} mean={c2Mean} lo={c2Lo} hi={c2Hi} up={c2Up} dn={c2Dn} W={16} colors={vColC} tick={15} cat={15} catGap={21} legend={{ x1: 575, x2: 595, y1: 732, y2: 746, size: 10 }} power={2.2} sw={2} />
        {statTitle(701)}
        <Heatmap b={{ x: 802, y: 720, w: 148, h: 175 }} m={pC} labels={catsC} size={12} colGap={17} cb={{ x: 955, y: 720, w: 13, h: 175 }} cbSize={10} />

        {panelLetter(996, 695, "C″")}
        <LineChart id="lc3" b={{ x: 1020, y: 712, w: 169, h: 172 }} yDomain={[0, 1]} yTicks={[0, 0.2, 0.4, 0.6, 0.8, 1]} series={cNSeries} tick={12} label={14} xLabel="Receiving cells" tickGap={18} labelGap={35} />
        <LegendRows x={1043} w={27} ys={[734, 752, 764, 776, 789]} colors={legC} thick={6} />
        <Arrow x={1032} y1={795} y2={731} />
        <Rich x={1072} y={738} size={14} parts={["C.R, ", ["n", "L"], ["cyt", "s"], "=4"]} />
        <Rich x={1072} y={760} size={14} parts={[["n", "L"], ["cyt", "s"], " = 3"]} />
        <Rich x={1072} y={795} size={14} parts={[["n", "L"], ["cyt", "s"], " =", ["1", "r"]]} />
        <LineChart id="lc4" b={{ x: 1222, y: 712, w: 166, h: 172 }} yDomain={[0, 3]} yTicks={[0, 1, 2, 3]} series={cRSeries} tick={12} label={14} xLabel="Receiving cells" tickGap={18} labelGap={35} refLine={1} />

        {/* ---------- table lines ---------- */}
        <g stroke="#151515" strokeWidth={2.6} fill="none">
          <rect x={73} y={5} width={1325} height={138} />
          <line x1={73} x2={1398} y1={68} y2={68} />
          <rect x={5} y={143} width={1393} height={787} />
          <line x1={73} x2={73} y1={143} y2={930} />
          <line x1={520} x2={520} y1={5} y2={930} />
          <line x1={990} x2={990} y1={5} y2={930} />
          <line x1={5} x2={1398} y1={405} y2={405} />
          <line x1={5} x2={1398} y1={667} y2={667} />
        </g>
      </svg>
    </div>
  );
}
